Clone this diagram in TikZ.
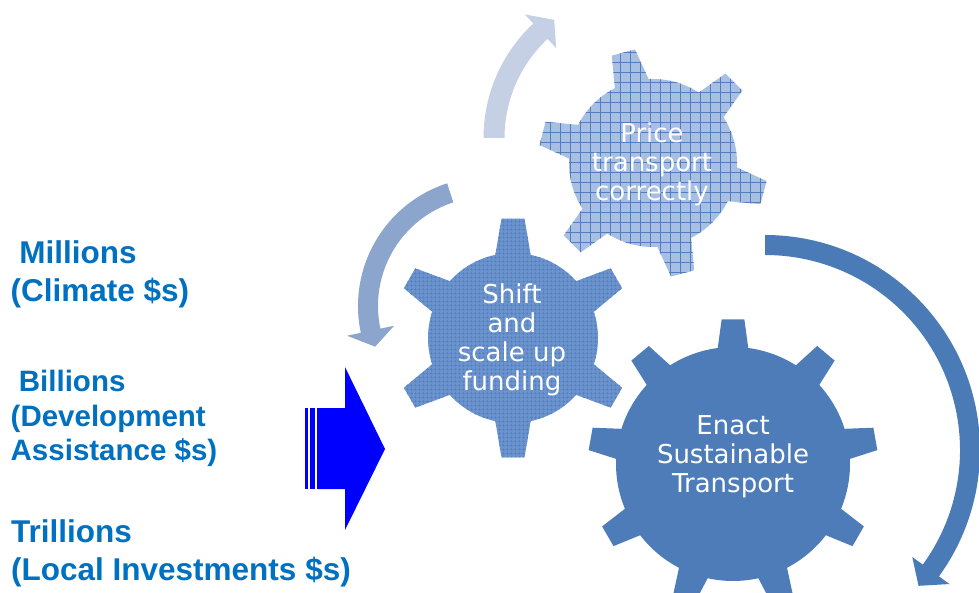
\documentclass[tikz,border=0pt]{standalone}
\usepackage{fontspec}
\usepackage{xcolor}
\usepackage{tikz}
\usetikzlibrary{calc,patterns.meta}
\newfontfamily\moneyfont{Liberation Sans}
\newfontfamily\gearfont{DejaVu Sans}
\definecolor{moneyblue}{RGB}{0,112,192}
\definecolor{pricegear}{RGB}{166,191,226}
\definecolor{shiftgear}{RGB}{108,148,204}
\definecolor{enactgear}{RGB}{78,124,184}
\definecolor{gridblue}{RGB}{82,126,192}
\definecolor{arrowpale}{RGB}{197,208,228}
\definecolor{arrowmid}{RGB}{140,165,205}
\definecolor{arrowdark}{RGB}{74,123,183}
\definecolor{pushblue}{RGB}{0,0,255}

% centre, teeth, first tooth, body radius, tip radius, base half angle, tip half angle
\newcommand{\gearoutline}[7]{($(#1)+({#3+#6}:#4)$)
  \foreach \k in {1,...,#2}{
    arc[start angle={#3+360/#2*(\k-1)+#6}, end angle={#3+360/#2*\k-#6}, radius=#4]
    -- ($(#1)+({#3+360/#2*\k-#7}:#5)$)
    -- ($(#1)+({#3+360/#2*\k+#7}:#5)$)
    -- ($(#1)+({#3+360/#2*\k+#6}:#4)$)
  } -- cycle}

% centre, radius, tail angle, head angle, tip angle, half shaft, half head
\newcommand{\bendarrow}[7]{($(#1)+(#3:{#2+#6})$)
  arc[start angle=#3, end angle=#4, radius={#2+#6}]
  -- ($(#1)+(#4:{#2+#7})$) -- ($(#1)+(#5:#2)$) -- ($(#1)+(#4:{#2-#7})$)
  -- ($(#1)+(#4:{#2-#6})$)
  arc[start angle=#4, end angle=#3, radius={#2-#6}] -- cycle}

\begin{document}
\begin{tikzpicture}[
    x=1pt, y=1pt,
    gearlabel/.style={text=white, align=center, font=\gearfont\fontsize{26}{29}\selectfont},
    money/.style={text=moneyblue, align=left, anchor=north west, inner sep=0pt, font=\moneyfont\bfseries\fontsize{31.5}{37.5}\selectfont}
]
\useasboundingbox (0,0) rectangle (979,592);

% Gear centres
\coordinate (pricec) at (653,429);
\coordinate (shiftc) at (513,254);
\coordinate (enactc) at (733,128);

% Gears
\fill[pricegear, postaction={pattern={Hatch[distance=10pt, angle=0, line width=0.6pt]}, pattern color=gridblue}]
  \gearoutline{pricec}{6}{45}{84}{115}{12}{6};
\fill[shiftgear, postaction={pattern={Hatch[distance=4pt, angle=0, line width=0.5pt]}, pattern color=gridblue}]
  \gearoutline{shiftc}{6}{30}{85}{120}{12}{5.5};
\fill[enactgear]
  \gearoutline{enactc}{9}{90}{117}{145}{7.5}{4.5};

% Curved arrows
\coordinate (palec) at (640,454);
\coordinate (midc) at (487,286);
\coordinate (darkc) at (765,142);
\fill[arrowpale] \bendarrow{palec}{146}{180}{133}{126}{10.5}{23};
\fill[arrowmid] \bendarrow{midc}{119}{108}{192}{200}{10}{24};
\fill[arrowdark] \bendarrow{darkc}{205}{90}{-36}{-41.5}{10}{23};

% Striped arrow
\fill[pushblue] (317,103) -- (345,103) -- (345,62) -- (385,143) -- (345,225) -- (345,184) -- (317,184) -- cycle;
\fill[pushblue] (305,103) rectangle (307.5,184);
\fill[pushblue] (310,103) rectangle (315,184);

% Funding levels
\node[money] (millions) at (10.5,351.5) {\ Millions\\(Climate \$s)};
\node[money, font=\moneyfont\bfseries\fontsize{29.5}{34.5}\selectfont] (billions) at (10.5,222) {\ Billions\\(Development\\Assistance \$s)};
\node[money] (trillions) at (11,72.5) {Trillions\\(Local Investments \$s)};

% Gear labels
\node[gearlabel] (pricetxt) at (652,428) {Price\\transport\\correctly};
\node[gearlabel] (shifttxt) at (512,252) {Shift\\and\\scale up\\funding};
\node[gearlabel] (enacttxt) at (733,135) {Enact\\Sustainable\\Transport};

\end{tikzpicture}
\end{document}
